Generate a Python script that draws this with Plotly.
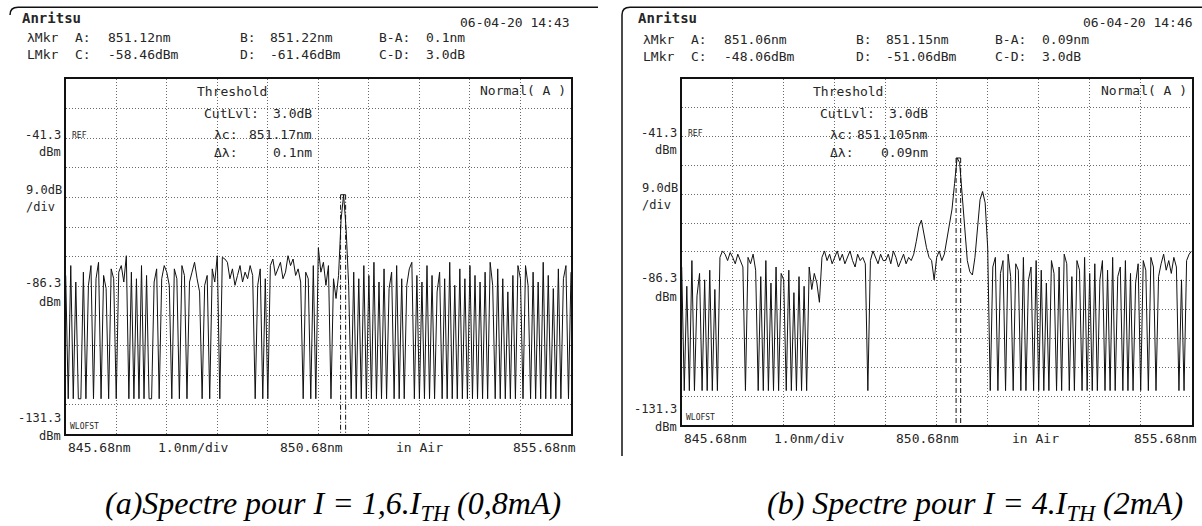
import plotly.graph_objects as go

# ---------------- data ----------------
WL_START = 845.68          # nm, left edge
WL_END = 855.68            # nm, right edge
WL_STEP = 0.05             # nm, sampling step used for the traces
Y_BOTTOM = -131.3          # dBm
Y_TOP = -23.3              # dBm (REF -41.3 + 2 div)
DB_DIV = 9.0
F = -120.5                 # dropout level (instrument floor)

# spectrum (a): I = 1.6 Ith, one row = 1 nm (20 samples)
spec_a = (
    [-83, F, -80, F, -85, F, F, -82, F, -86, -80, F, -84, -79, F, -83, -87, F, -81, -84]
    + [F, -82, -80, -85, -77, F, -82, F, -84, F, -80, F, -83, F, F, -85, -81, F, -84, -80]
    + [-82, -86, F, -81, -84, F, -80, -83, F, -85, -82, -79, -84, -88, F, -86, -83, F, -81, -85]
    + [-77, F, -77.5, -78, -79, -84, -81, -86, -83, -80, -85, -82, -84, -80, -83, F, -86, -81, F, -84]
    + [F, -80, -78, -83, -81, -79, -84, -82, -77, -80, -78, -83, -81, -85, F, -82, -84, F, -80, F]
    + [-74.6, -82, -79, -86, -80, F, -84, -90, -83, -66, -58.46, -69, -86, F, -82, F, -84, F, -80, F]
    + [-83, F, -79, F, -85, F, -81, F, -87, -82, F, -80, F, -84, F, -86, -81, -79, F, -83]
    + [F, -85, F, -80, F, -83, F, -88, -82, F, -84, F, -79, F, -86, F, -81, F, -84, F]
    + [-80, F, -83, F, -85, F, -82, F, -79, -86, F, -81, F, -84, F, -88, F, -83, F, -80]
    + [-84, F, -80, -86, F, -82, F, -85, F, -79, F, -83, F, -87, F, -81, F, -84, -80, F]
    + [-82]
)

# spectrum (b): I = 4 Ith
spec_b = (
    [-82, F, -88, F, -80, F, -91, -84, F, -86, F, -83, F, -89, F, -79, -77, -78, -80, -77.5]
    + [-79, -81, -78, -80, -82, F, -79, -81, -78, -83, F, -85, F, -80, F, -87, F, -82, F, -84]
    + [-86, F, -83, F, -90, F, -85, F, -88, F, -82, -89, -84, -87, -93, -79, -77, -80, -78, -81]
    + [-79, -77, -80, -78, -81, -79, -77, -80, -82, -78, -80, -79, -81, F, -80, -77, -79, -81, -78, -80]
    + [-80, -78, -81, -77, -79, -82, -80, -78, -81, -79, -80, -78, -74, -69.5, -67.4, -72, -76, -79, -80, -86]
    + [-79, -77, -80, -78, -73, -69, -64, -56, -48.06, -49.5, -59, -71, -80, -83.5, -84.5, -79, -69, -61, -58.5, -62]
    + [-76, F, -82, -79, F, -84, -80, F, -78, -85, F, -81, -83, F, -79, F, -86, -82, F, -80]
    + [F, -83, F, -87, F, -80, -84, F, -82, F, -78, -81, F, -85, F, -80, -83, F, -79, F]
    + [-84, F, -81, F, -86, -80, F, -83, F, -79, F, -85, -82, F, -80, F, -84, F, -87, -81]
    + [F, -80, -83, F, -79, -82, F, -85, -81, -78, -83, -80, -84, -79, -82, F, -86, F, -80, -78]
    + [-77]
)

# wavelength / level markers  [A, B, C, D]
markers_a = [851.12, 851.22, -58.46, -61.46]
markers_b = [851.06, 851.15, -48.06, -51.06]

# screen texts
dates = ["06-04-20 14:43", "06-04-20 14:46"]
mkr_wl = [["851.12nm", "851.22nm", "0.1nm"], ["851.06nm", "851.15nm", "0.09nm"]]
mkr_lv = [["-58.46dBm", "-61.46dBm", "3.0dB"], ["-48.06dBm", "-51.06dBm", "3.0dB"]]
thr_vals = [["3.0dB", "851.17nm", "0.1nm"], ["3.0dB", "851.105nm", "0.09nm"]]
y_labels = ["-41.3", "-86.3", "-131.3"]
x_labels = ["845.68nm", "1.0nm/div", "850.68nm", "in Air", "855.68nm"]
captions = ["<i>(a)Spectre pour I = 1,6.I<sub>TH</sub> (0,8mA)</i>",
            "<i>(b) Spectre pour I = 4.I<sub>TH</sub> (2mA)</i>"]

wl = [round(WL_START + i * WL_STEP, 2) for i in range(len(spec_a))]

# ---------------- layout ----------------
W, H = 1202, 526
MONO = "DejaVu Sans Mono"
TXT = "#262626"

# plot rectangles in pixels: (left, right, top, bottom)
rects = [(65.7, 571.0, 79.1, 434.3), (681.7, 1191.7, 78.5, 425.3)]

fig = go.Figure()
axis_names = [("x", "y"), ("x2", "y2")]
for k, (spec, mk) in enumerate([(spec_a, markers_a), (spec_b, markers_b)]):
    xa, ya = axis_names[k]
    fig.add_trace(go.Scatter(x=wl, y=spec, mode="lines", xaxis=xa, yaxis=ya,
                             line=dict(color="#111111", width=1), hoverinfo="skip",
                             showlegend=False))
    A, B, C, D = mk
    fig.add_trace(go.Scatter(x=[A, A, None, B, B], y=[C, Y_BOTTOM, None, C, Y_BOTTOM],
                             mode="lines", xaxis=xa, yaxis=ya, showlegend=False,
                             line=dict(color="#111111", width=1, dash="5px,2px,1px,2px"),
                             hoverinfo="skip"))
    fig.add_trace(go.Scatter(x=[A, B], y=[C, C], mode="lines", xaxis=xa, yaxis=ya,
                             showlegend=False, line=dict(color="#111111", width=1),
                             hoverinfo="skip"))

def axis_common():
    return dict(showgrid=True, gridcolor="#6a6a6a", griddash="1px,2px", gridwidth=1,
                showticklabels=False, ticks="", zeroline=False, showline=True,
                linecolor="#111111", linewidth=1.5, mirror=True, fixedrange=True)

layout = dict(width=W, height=H, margin=dict(l=0, r=0, t=0, b=0),
              paper_bgcolor="white", plot_bgcolor="white", showlegend=False)
for k, (l, r, t, b) in enumerate(rects):
    xs = "xaxis" if k == 0 else "xaxis2"
    ys = "yaxis" if k == 0 else "yaxis2"
    xa = axis_common()
    xa.update(domain=[l / W, r / W], range=[WL_START, WL_END], tick0=WL_START, dtick=1,
              anchor="y" if k == 0 else "y2")
    ya = axis_common()
    ya.update(domain=[1 - b / H, 1 - t / H], range=[Y_BOTTOM, Y_TOP], tick0=Y_BOTTOM,
              dtick=DB_DIV, anchor="x" if k == 0 else "x2")
    layout[xs] = xa
    layout[ys] = ya

ann = []
def txt(x, y, s, anchor="left", size=13, family=MONO, color=TXT):
    ann.append(dict(x=x / W, y=1 - y / H, xref="paper", yref="paper", text=s,
                    showarrow=False, xanchor=anchor, yanchor="middle",
                    font=dict(size=size, family=family, color=color)))

for k in range(2):
    dx = 0 if k == 0 else 616
    l, r, t, b = rects[k]
    txt(20 + dx, 18, "<b>Anritsu</b>", size=14)
    txt(572 + dx + (7 if k else 0), 22, dates[k], anchor="right")
    r1, r2 = (38, 55) if k == 0 else (40, 57)
    txt(25 + dx, r1, "λMkr"); txt(73 + dx, r1, "A:"); txt(106 + dx, r1, mkr_wl[k][0])
    txt(238 + dx, r1, "B:"); txt(268 + dx, r1, mkr_wl[k][1])
    txt(377 + dx, r1, "B-A:"); txt(424 + dx, r1, mkr_wl[k][2])
    txt(25 + dx, r2, "LMkr"); txt(73 + dx, r2, "C:"); txt(106 + dx, r2, mkr_lv[k][0])
    txt(238 + dx, r2, "D:"); txt(268 + dx, r2, mkr_lv[k][1])
    txt(377 + dx, r2, "C-D:"); txt(424 + dx, r2, mkr_lv[k][2])
    # threshold block
    txt(195 + dx, 92, "Threshold")
    txt(202 + dx, 114, "CutLvl:"); txt(314 + dx, 114, thr_vals[k][0], anchor="right")
    txt(212 + dx, 134, "λc:"); txt(314 + dx, 134, thr_vals[k][1], anchor="right")
    txt(212 + dx, 152, "Δλ:"); txt(314 + dx, 152, thr_vals[k][2], anchor="right")
    txt(r - 3, 91, "Normal( A )", anchor="right")
    # y-side labels
    ref_y = t + 2 * (b - t) / 12
    mid_y = t + 7 * (b - t) / 12
    txt(l - 3, ref_y - 3, y_labels[0], anchor="right", size=12)
    txt(l - 3, ref_y + 14, "dBm", anchor="right", size=12)
    txt(24 + dx, ref_y + 52, "9.0dB", size=12)
    txt(24 + dx, ref_y + 69, "/div", size=12)
    txt(l - 3, mid_y - 3, y_labels[1], anchor="right", size=12)
    txt(l - 3, mid_y + 16, "dBm", anchor="right", size=12)
    txt(l - 3, b - 16, y_labels[2], anchor="right", size=12)
    txt(l - 3, b + 2, "dBm", anchor="right", size=12)
    txt(l + 4, ref_y - 3, "REF", size=8)
    txt(l + 2, b - 8, "WLOFST", size=8)
    # x-side labels
    xl_y = b + 13
    txt(l, xl_y, x_labels[0])
    txt(l + 90, xl_y, x_labels[1])
    txt(l + 212, xl_y, x_labels[2])
    txt(l + 328, xl_y, x_labels[3])
    txt(r + 7, xl_y, x_labels[4], anchor="right")

# captions
ann.append(dict(x=333 / W, y=1 - 505 / H, xref="paper", yref="paper", text=captions[0],
                showarrow=False, xanchor="center", yanchor="middle",
                font=dict(size=32, family="Liberation Serif", color="#000000")))
ann.append(dict(x=975 / W, y=1 - 505 / H, xref="paper", yref="paper", text=captions[1],
                showarrow=False, xanchor="center", yanchor="middle",
                font=dict(size=32, family="Liberation Serif", color="#000000")))

def P(x, y):
    return f"{x / W:.5f},{1 - y / H:.5f}"

shapes = [
    dict(type="path", xref="paper", yref="paper",
         path=f"M {P(10, 15)} Q {P(10, 7.3)} {P(18, 7.3)} L {P(598, 7.3)}",
         line=dict(color="#111111", width=1.5)),
    dict(type="path", xref="paper", yref="paper",
         path=f"M {P(622, 456)} L {P(622, 15)} Q {P(622, 7.3)} {P(630, 7.3)} L {P(1202, 7.3)}",
         line=dict(color="#111111", width=1.5)),
]
layout["annotations"] = ann
layout["shapes"] = shapes
fig.update_layout(**layout)

fig.write_html("out.html", config={"displayModeBar": False},
               post_script="document.body.style.margin='0';document.body.style.overflow='hidden';")
